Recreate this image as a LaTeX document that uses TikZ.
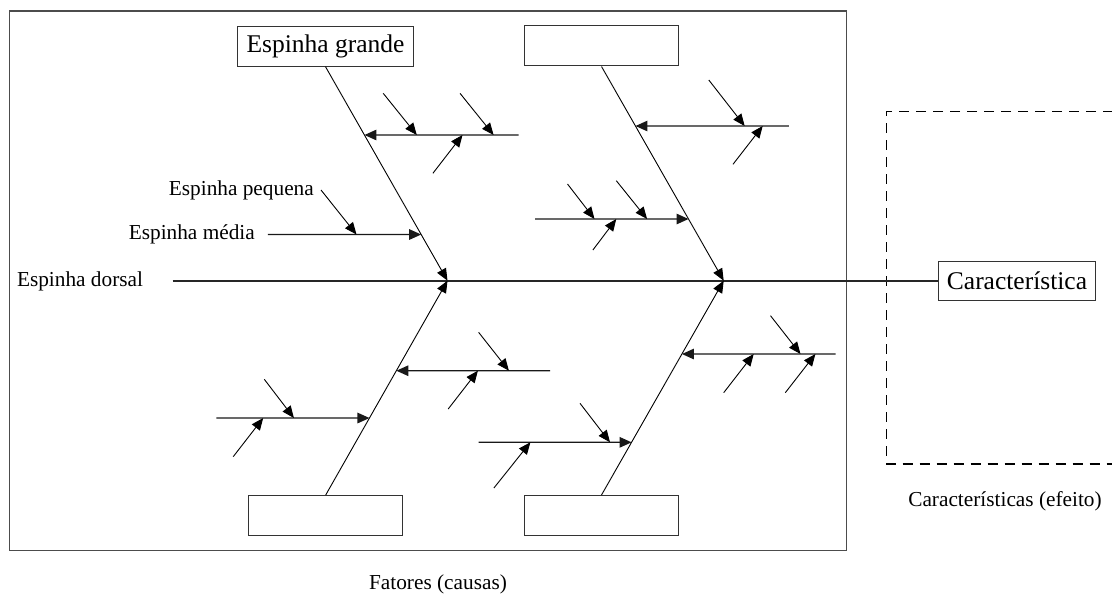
\documentclass[tikz,border=0pt]{standalone}
\usepackage{fontspec}
\setmainfont{Liberation Serif}
\usetikzlibrary{arrows.meta}

\begin{document}
\begin{tikzpicture}[x=1pt,y=-1pt,
  frame/.style={draw=black!70, line width=1.3pt},
  box/.style={draw=black!80, line width=1pt, minimum width=154pt, minimum height=40pt, inner sep=0pt},
  spine/.style={draw=black!85, line width=1.8pt},
  bone/.style={draw=black, line width=0.9pt, -{Triangle[length=12pt,width=10pt]}},
  rib/.style={draw=black!90, line width=1.3pt, -{Triangle[length=12pt,width=10.5pt]}},
  twig/.style={draw=black, line width=0.9pt, -{Triangle[length=12pt,width=10pt]}},
  effect/.style={draw=black, line width=1.4pt, dash pattern=on 10pt off 7pt},
  lbl/.style={font=\fontsize{21.3}{24}\selectfont, inner sep=0pt},
  big/.style={font=\fontsize{25.5}{28}\selectfont}]

\clip (0,0) rectangle (1112,594);

% outer frame of the causes
\draw[frame] (9.6,11) rectangle (846.2,550.7);

% dashed frame of the effect
\draw[effect] (1130,111.5) -- (886.5,111.5) -- (886.5,464) -- (1130,464);

% category boxes
\node[box, minimum width=176pt, big, inner sep=0pt] (gb) at (325.5,46.2) {Espinha grande};
\node[box] (tr) at (601.5,46) {};
\node[box] (bl) at (325.7,515.5) {};
\node[box] (br) at (601.5,515.5) {};
\node[box, minimum width=157.4pt, minimum height=39pt, big, inner sep=0pt] (car) at (1017,280.7) {Característica};

% backbone
\coordinate (sp0) at (172.5,280.7);
\coordinate (jl) at (447.5,280.7);
\coordinate (jr) at (723.7,280.7);
\draw[spine] (sp0) -- (car.west);

% large bones
\draw[bone] (gb.south) -- (jl);
\draw[bone] (bl.north) -- (jl);
\draw[bone] (tr.south) -- (jr);
\draw[bone] (br.north) -- (jr);

% medium bones: free end and tip on a large bone
\coordinate (a1) at (518.6,135);
\coordinate (b1) at (intersection of gb.south--jl and 0,135--100,135);
\coordinate (a2) at (267.9,234.5);
\coordinate (b2) at (intersection of gb.south--jl and 0,234.5--100,234.5);
\coordinate (a3) at (788.8,126);
\coordinate (b3) at (intersection of tr.south--jr and 0,126--100,126);
\coordinate (a4) at (535.1,219);
\coordinate (b4) at (intersection of tr.south--jr and 0,219--100,219);
\coordinate (a5) at (550,370.7);
\coordinate (b5) at (intersection of bl.north--jl and 0,370.7--100,370.7);
\coordinate (a6) at (216.4,418);
\coordinate (b6) at (intersection of bl.north--jl and 0,418--100,418);
\coordinate (a7) at (835.7,354);
\coordinate (b7) at (intersection of br.north--jr and 0,354--100,354);
\coordinate (a8) at (478.6,442.3);
\coordinate (b8) at (intersection of br.north--jr and 0,442.3--100,442.3);
\foreach \i in {1,...,8}{\draw[rib] (a\i) -- (b\i);}

% small bones
\foreach \n/\sx/\sy/\tx/\ty in {
  1/383.2/93.3/416.8/135, 2/460/93.3/493.6/135, 3/432.9/173.3/462.5/135,
  4/321/190/356.5/234.5,
  5/708.8/80/744.7/126, 6/733/164.3/762.7/126,
  7/567.5/184/594.5/219, 8/616.3/180.7/647.1/219, 9/592.9/250/616.3/219,
  10/478.6/332.3/508.9/370.7, 11/448.2/409/477.9/370.7,
  12/264.3/379.3/293.9/418, 13/233.2/456.7/263.2/418,
  14/770.5/315.7/800.5/354, 15/723.7/392.7/753.7/354, 16/785.3/392.7/815.4/354,
  17/580/403.3/610/442.3, 18/493.9/488/530.4/442.3}{
  \coordinate (s\n) at (\sx,\sy);
  \coordinate (e\n) at (\tx,\ty);
  \draw[twig] (s\n) -- (e\n);
}

% labels
\node[lbl, anchor=base west] (ldorsal) at (16.8,286) {Espinha dorsal};
\node[lbl, anchor=base east] (lmedia) at (255,239.5) {Espinha média};
\node[lbl, anchor=base east] (lpequena) at (314,195.7) {Espinha pequena};
\node[lbl, anchor=base] (lcausas) at (438,589.5) {Fatores (causas)};
\node[lbl, anchor=base] (lefeito) at (1005,506.5) {Características (efeito)};
\end{tikzpicture}
\end{document}
